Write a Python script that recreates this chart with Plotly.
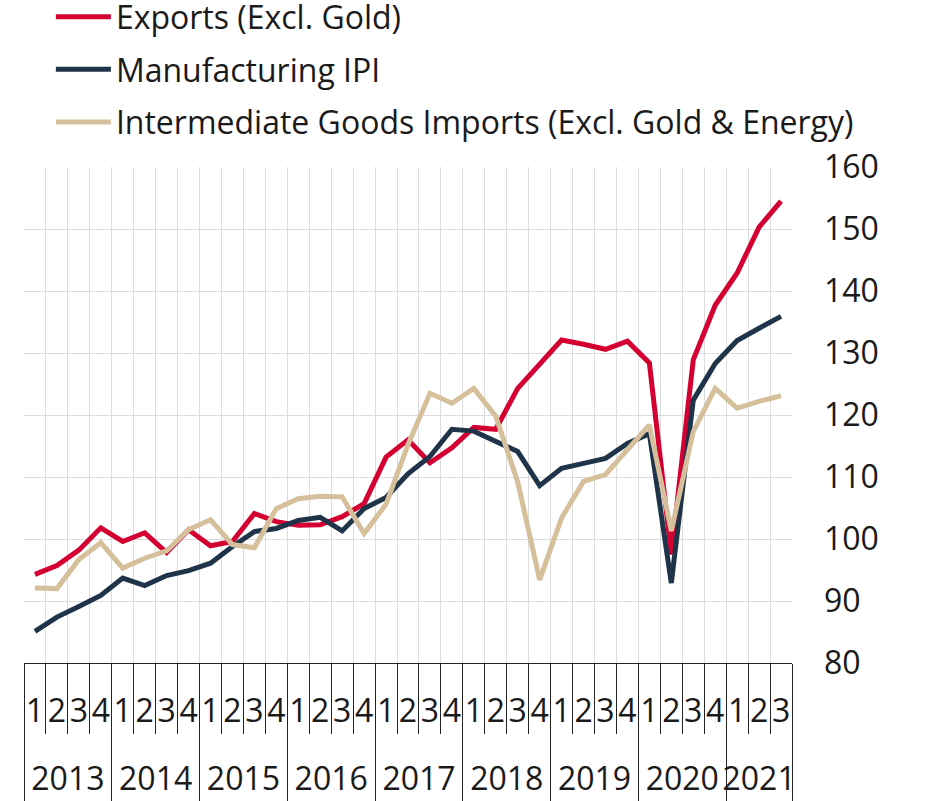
import plotly.graph_objects as go

years = ["2013"] * 4 + ["2014"] * 4 + ["2015"] * 4 + ["2016"] * 4 + ["2017"] * 4 + \
        ["2018"] * 4 + ["2019"] * 4 + ["2020"] * 4 + ["2021"] * 3
quarters = ["1", "2", "3", "4"] * 8 + ["1", "2", "3"]

exports = [94.3, 95.7, 98.2, 101.8, 99.6, 101.0, 97.8, 101.5,
           98.9, 99.6, 104.1, 102.8, 102.2, 102.3, 103.6, 105.7,
           113.2, 116.0, 112.3, 114.7, 118.0, 117.7, 124.3, 128.2,
           132.1, 131.4, 130.6, 131.9, 128.4, 97.5, 128.9, 137.7,
           142.9, 150.3, 154.5]
manufacturing = [85.1, 87.4, 89.1, 90.9, 93.7, 92.5, 94.1, 94.9,
                 96.1, 98.8, 101.2, 101.7, 103.0, 103.5, 101.3, 104.9,
                 106.7, 110.5, 113.3, 117.7, 117.4, 115.8, 114.1, 108.6,
                 111.4, 112.2, 113.0, 115.4, 117.0, 92.9, 122.4, 128.3,
                 132.0, 134.0, 135.9]
intermediate = [92.1, 92.0, 96.7, 99.4, 95.3, 96.9, 98.1, 101.5,
                103.1, 99.1, 98.6, 104.9, 106.5, 106.9, 106.8, 100.9,
                105.6, 115.2, 123.5, 121.9, 124.3, 119.8, 109.2, 93.4,
                103.4, 109.3, 110.4, 114.4, 118.4, 101.3, 117.3, 124.3,
                121.1, 122.2, 123.1]

series_names = ["Exports (Excl. Gold)", "Manufacturing IPI",
                "Intermediate Goods Imports (Excl. Gold & Energy)"]
colors = ["#D50032", "#1F3349", "#D6C09C"]
y_ticks = [80, 90, 100, 110, 120, 130, 140, 150, 160]

FONT = "Open Sans"
FS = 32
TXT = "#1a1a1a"
AXC = "#222222"

# category ids (unique) built from year/quarter lists
cats = [f"{y}-Q{q}" for y, q in zip(years, quarters)]
n = len(cats)

# year groups in category-index units (for the secondary label axis)
year_names = []
groups = []
for i, y in enumerate(years):
    if not year_names or year_names[-1] != y:
        year_names.append(y)
        groups.append([i])
    else:
        groups[-1].append(i)
year_centers = [sum(g) / len(g) for g in groups]
year_bounds = [g[0] - 0.5 for g in groups] + [groups[-1][-1] + 0.5]

fig = go.Figure()
for i, (name, vals, col) in enumerate(zip(series_names, [exports, manufacturing, intermediate], colors)):
    fig.add_trace(go.Scatter(x=cats, y=vals, name=name, mode="lines",
                             legendgroup=f"g{i}",
                             line=dict(color=col, width=5)))
# empty helper trace so that the year-label axis is drawn
fig.add_trace(go.Scatter(x=[], y=[], xaxis="x2", yaxis="y", showlegend=False,
                         hoverinfo="skip"))

fig.update_layout(
    width=925, height=801,
    margin=dict(l=24, r=133, t=167, b=138, autoexpand=False),
    paper_bgcolor="white", plot_bgcolor="white",
    font=dict(family=FONT, size=FS, color=TXT),
    showlegend=True,
    legend=dict(x=0.035, y=1.358, xref="paper", yref="paper", xanchor="left", yanchor="top",
                font=dict(family=FONT, size=FS, color=TXT),
                bgcolor="rgba(0,0,0,0)", itemwidth=55, traceorder="grouped",
                tracegroupgap=8),
    xaxis=dict(
        type="category", automargin=False, range=[-0.5, n - 0.5],
        tickmode="array", tickvals=cats, ticktext=quarters, tickangle=0,
        showgrid=True, gridcolor="#dcdcdc", gridwidth=1,
        showline=True, linecolor=AXC, linewidth=1,
        ticks="outside", ticklen=70, tickcolor=AXC, tickwidth=1,
        tickson="boundaries",
        tickfont=dict(family=FONT, size=FS, color=TXT),
        ticklabelstandoff=20,
    ),
    xaxis2=dict(
        overlaying="x", anchor="y", side="bottom", type="linear",
        range=[-0.5, n - 0.5], automargin=False,
        tickmode="array", tickvals=year_centers, ticktext=year_names, tickangle=0,
        ticks="", showgrid=False, showline=False, zeroline=False,
        minor=dict(tickmode="array", tickvals=year_bounds, ticks="outside",
                   ticklen=140, tickcolor=AXC, tickwidth=1, showgrid=False),
        tickfont=dict(family=FONT, size=FS, color=TXT),
        ticklabelstandoff=94,
    ),
    yaxis=dict(
        side="right", range=[80, 160], tickvals=y_ticks, automargin=False,
        showgrid=True, gridcolor="#dcdcdc", gridwidth=1,
        zeroline=False, showline=False, ticks="",
        ticklabelstandoff=31,
        tickfont=dict(family=FONT, size=FS, color=TXT),
    ),
)
fig.write_html("out.html", config={"displayModeBar": False},
               post_script="document.body.style.margin='0';")
